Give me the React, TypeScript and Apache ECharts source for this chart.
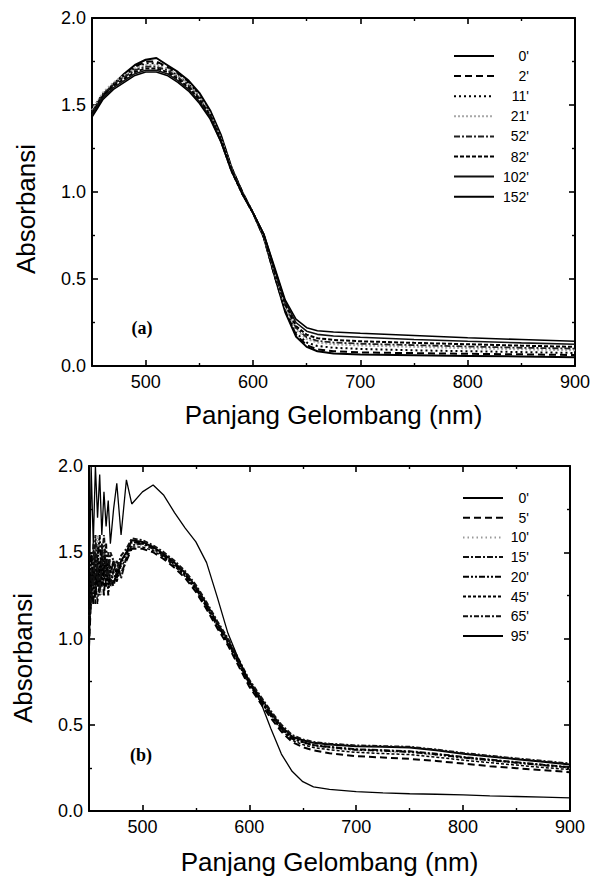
import React, { useEffect, useRef } from "react";
import * as echarts from "echarts";

// ---------- Data: panel (a) ----------
const wavelengthA = [450, 455, 460, 470, 480, 490, 500, 510, 520, 530, 540, 550, 560, 570, 580, 590, 600, 610, 620, 630, 640, 650, 660, 675, 700, 750, 800, 850, 900];
const labelsA = ["0'", "2'", "11'", "21'", "52'", "82'", "102'", "152'"];
const a0 = [1.44, 1.50, 1.55, 1.62, 1.68, 1.73, 1.76, 1.77, 1.73, 1.69, 1.64, 1.57, 1.47, 1.33, 1.14, 1.00, 0.88, 0.74, 0.52, 0.31, 0.17, 0.11, 0.085, 0.072, 0.066, 0.062, 0.058, 0.055, 0.05];
const a2 = [1.45, 1.51, 1.56, 1.62, 1.67, 1.72, 1.75, 1.75, 1.72, 1.68, 1.63, 1.56, 1.46, 1.32, 1.14, 1.00, 0.88, 0.74, 0.52, 0.32, 0.18, 0.12, 0.095, 0.085, 0.078, 0.074, 0.070, 0.067, 0.063];
const a11 = [1.46, 1.52, 1.56, 1.62, 1.67, 1.71, 1.74, 1.74, 1.71, 1.67, 1.62, 1.55, 1.45, 1.31, 1.13, 0.99, 0.88, 0.75, 0.53, 0.33, 0.19, 0.135, 0.115, 0.105, 0.098, 0.090, 0.085, 0.080, 0.075];
const a21 = [1.47, 1.52, 1.57, 1.63, 1.67, 1.71, 1.73, 1.73, 1.71, 1.67, 1.62, 1.55, 1.45, 1.31, 1.13, 0.99, 0.88, 0.75, 0.54, 0.34, 0.21, 0.155, 0.135, 0.125, 0.118, 0.110, 0.102, 0.096, 0.090];
const a52 = [1.46, 1.51, 1.56, 1.62, 1.66, 1.70, 1.72, 1.72, 1.70, 1.66, 1.61, 1.54, 1.44, 1.30, 1.13, 0.99, 0.88, 0.75, 0.54, 0.35, 0.22, 0.165, 0.145, 0.135, 0.128, 0.120, 0.112, 0.105, 0.100];
const a82 = [1.45, 1.50, 1.55, 1.61, 1.65, 1.69, 1.71, 1.71, 1.69, 1.65, 1.60, 1.53, 1.44, 1.30, 1.12, 0.99, 0.88, 0.75, 0.55, 0.36, 0.23, 0.180, 0.160, 0.150, 0.142, 0.133, 0.125, 0.117, 0.110];
const a102 = [1.44, 1.49, 1.54, 1.60, 1.64, 1.68, 1.70, 1.70, 1.68, 1.64, 1.59, 1.52, 1.43, 1.29, 1.12, 0.99, 0.88, 0.76, 0.56, 0.37, 0.25, 0.200, 0.182, 0.172, 0.165, 0.152, 0.142, 0.133, 0.125];
const a152 = [1.43, 1.48, 1.53, 1.59, 1.63, 1.67, 1.69, 1.69, 1.67, 1.63, 1.58, 1.51, 1.42, 1.29, 1.12, 0.99, 0.88, 0.76, 0.57, 0.38, 0.27, 0.220, 0.203, 0.195, 0.188, 0.175, 0.162, 0.152, 0.142];
const valuesA = [a0, a2, a11, a21, a52, a82, a102, a152];

// ---------- Data: panel (b) ----------
const wavelengthB = [450, 452, 454, 456, 458, 460, 462, 464, 466, 468, 470, 473, 476, 480, 485, 490, 500, 510, 520, 530, 540, 550, 560, 570, 580, 590, 600, 610, 620, 630, 640, 650, 660, 675, 700, 725, 750, 775, 800, 825, 850, 875, 900];
const labelsB = ["0'", "5'", "10'", "15'", "20'", "45'", "65'", "95'"];
const b0 = [1.00, 1.35, 1.20, 1.50, 1.30, 1.45, 1.35, 1.50, 1.30, 1.40, 1.38, 1.45, 1.35, 1.45, 1.50, 1.57, 1.56, 1.53, 1.49, 1.44, 1.38, 1.30, 1.20, 1.09, 0.99, 0.87, 0.75, 0.66, 0.57, 0.49, 0.43, 0.41, 0.395, 0.385, 0.375, 0.372, 0.368, 0.352, 0.332, 0.316, 0.30, 0.285, 0.27];
const b5 = [0.95, 1.25, 1.40, 1.20, 1.55, 1.30, 1.40, 1.25, 1.45, 1.30, 1.35, 1.30, 1.40, 1.38, 1.45, 1.52, 1.52, 1.50, 1.46, 1.41, 1.35, 1.27, 1.17, 1.06, 0.96, 0.84, 0.72, 0.63, 0.54, 0.46, 0.40, 0.37, 0.352, 0.335, 0.318, 0.31, 0.302, 0.29, 0.275, 0.26, 0.248, 0.237, 0.225];
const b10 = [1.05, 1.45, 1.25, 1.35, 1.60, 1.40, 1.25, 1.50, 1.35, 1.30, 1.45, 1.35, 1.42, 1.40, 1.48, 1.55, 1.54, 1.52, 1.48, 1.43, 1.37, 1.29, 1.19, 1.08, 0.98, 0.86, 0.74, 0.65, 0.56, 0.48, 0.42, 0.395, 0.378, 0.365, 0.35, 0.345, 0.338, 0.323, 0.305, 0.29, 0.276, 0.262, 0.248];
const b15 = [1.10, 1.20, 1.55, 1.30, 1.40, 1.25, 1.55, 1.35, 1.45, 1.50, 1.30, 1.40, 1.45, 1.35, 1.47, 1.54, 1.55, 1.52, 1.48, 1.43, 1.37, 1.29, 1.19, 1.08, 0.98, 0.86, 0.74, 0.65, 0.56, 0.48, 0.42, 0.40, 0.383, 0.372, 0.358, 0.352, 0.346, 0.332, 0.313, 0.298, 0.283, 0.268, 0.254];
const b20 = [0.98, 1.50, 1.30, 1.25, 1.45, 1.60, 1.30, 1.40, 1.55, 1.25, 1.42, 1.38, 1.33, 1.44, 1.49, 1.56, 1.55, 1.53, 1.48, 1.43, 1.37, 1.29, 1.19, 1.08, 0.98, 0.86, 0.74, 0.65, 0.56, 0.48, 0.42, 0.40, 0.38, 0.37, 0.355, 0.35, 0.343, 0.328, 0.31, 0.295, 0.28, 0.266, 0.252];
const b45 = [1.02, 1.30, 1.45, 1.35, 1.20, 1.40, 1.50, 1.30, 1.35, 1.45, 1.40, 1.32, 1.38, 1.42, 1.46, 1.53, 1.53, 1.51, 1.47, 1.42, 1.36, 1.28, 1.18, 1.07, 0.97, 0.85, 0.73, 0.64, 0.55, 0.47, 0.41, 0.385, 0.368, 0.355, 0.34, 0.333, 0.327, 0.312, 0.295, 0.28, 0.266, 0.252, 0.24];
const b65 = [1.08, 1.40, 1.30, 1.60, 1.35, 1.30, 1.45, 1.60, 1.40, 1.35, 1.50, 1.45, 1.40, 1.48, 1.52, 1.58, 1.57, 1.54, 1.50, 1.45, 1.39, 1.31, 1.21, 1.10, 1.00, 0.88, 0.76, 0.67, 0.58, 0.50, 0.44, 0.415, 0.40, 0.39, 0.38, 0.376, 0.372, 0.356, 0.336, 0.32, 0.305, 0.29, 0.275];
const b95 = [1.05, 2.00, 1.55, 2.00, 1.70, 1.95, 1.60, 1.85, 1.65, 1.80, 1.55, 1.75, 1.90, 1.60, 1.92, 1.78, 1.85, 1.89, 1.83, 1.73, 1.64, 1.56, 1.44, 1.24, 1.03, 0.88, 0.75, 0.64, 0.48, 0.33, 0.23, 0.17, 0.14, 0.125, 0.112, 0.105, 0.10, 0.097, 0.093, 0.088, 0.084, 0.080, 0.076];
const valuesB = [b0, b5, b10, b15, b20, b45, b65, b95];

// ---------- Axis ranges / text ----------
const xMin = 450;
const xMax = 900;
const yMin = 0;
const yMax = 2;
const yStep = 0.5;
const xTitle = "Panjang Gelombang (nm)";
const yTitle = "Absorbansi";

// ---------- Styles (not data) ----------
const stylesA = [
  { type: "solid", width: 2, color: "#000" },
  { type: [7, 4], width: 2, color: "#000" },
  { type: [2, 3], width: 2, color: "#000" },
  { type: [2, 2], width: 2, color: "#a8a8a8" },
  { type: [6, 2, 2, 2], width: 1.8, color: "#222" },
  { type: [4, 2], width: 2, color: "#000" },
  { type: "solid", width: 1.6, color: "#111" },
  { type: "solid", width: 1.6, color: "#000" },
];
const stylesB = [
  { type: "solid", width: 2, color: "#000" },
  { type: [7, 4], width: 2, color: "#000" },
  { type: [1.5, 3], width: 1.5, color: "#9a9a9a" },
  { type: [6, 2, 2, 2], width: 2, color: "#111" },
  { type: [6, 2, 2, 2, 2, 2], width: 2, color: "#000" },
  { type: [3, 2], width: 1.5, color: "#000" },
  { type: [5, 2, 2, 2], width: 2, color: "#111" },
  { type: "solid", width: 1.3, color: "#000" },
];

const FONT = "'Liberation Sans', Arial, Helvetica, sans-serif";

function makeXAxes(gridIndex: number, nameGap: number) {
  const common = {
    type: "value",
    gridIndex,
    min: xMin,
    max: xMax,
    splitLine: { show: false },
    axisLine: { show: true, onZero: false, lineStyle: { color: "#000", width: 2 } },
    axisTick: { show: true, inside: true, length: 6, lineStyle: { color: "#000", width: 1.6 } },
    minorTick: { show: true, splitNumber: 2, length: 3, lineStyle: { color: "#000", width: 1.4 } },
    minorSplitLine: { show: false },
  };
  return [
    {
      ...common,
      position: "bottom",
      name: xTitle,
      nameLocation: "middle",
      nameGap,
      nameTextStyle: { fontSize: 26, color: "#000", fontFamily: FONT },
      axisLabel: {
        color: "#000",
        fontSize: 18,
        fontFamily: FONT,
        margin: 7,
        formatter: (v: number) => (v === xMin ? "" : String(v)),
      },
    },
    { ...common, position: "top", axisLabel: { show: false } },
  ];
}

function makeYAxes(gridIndex: number) {
  const common = {
    type: "value",
    gridIndex,
    min: yMin,
    max: yMax,
    interval: yStep,
    splitLine: { show: false },
    axisLine: { show: true, onZero: false, lineStyle: { color: "#000", width: 2 } },
    axisTick: { show: true, inside: true, length: 6, lineStyle: { color: "#000", width: 1.6 } },
    minorTick: { show: true, splitNumber: 2, length: 3, lineStyle: { color: "#000", width: 1.4 } },
    minorSplitLine: { show: false },
  };
  return [
    {
      ...common,
      position: "left",
      axisLabel: {
        color: "#000",
        fontSize: 18,
        fontFamily: FONT,
        margin: 6,
        formatter: (v: number) => v.toFixed(1),
      },
    },
    { ...common, position: "right", axisLabel: { show: false } },
  ];
}

function makeSeries(prefix: string, labels: string[], xs: number[], vals: number[][], styles: any[], axisIdx: number) {
  return labels.map((lab, i) => ({
    name: prefix + "|" + lab,
    type: "line",
    xAxisIndex: axisIdx,
    yAxisIndex: axisIdx,
    symbol: "none",
    smooth: false,
    clip: true,
    lineStyle: styles[i],
    itemStyle: { color: styles[i].color },
    data: xs.map((x, j) => [x, vals[i][j]]),
  }));
}

function makeLegend(prefix: string, labels: string[], left: number, top: number, textWidth: number, gap: number) {
  return {
    orient: "vertical",
    left,
    top,
    padding: 0,
    itemWidth: 40,
    itemHeight: 14,
    itemGap: gap,
    selectedMode: false,
    itemStyle: { opacity: 0 },
    data: labels.map((l) => prefix + "|" + l),
    formatter: (name: string) => "{t|" + name.split("|")[1] + "}",
    textStyle: {
      color: "#000",
      fontSize: 14,
      fontFamily: FONT,
      lineHeight: 14,
      rich: { t: { width: textWidth, height: 14, lineHeight: 14, align: "right", fontSize: 14, fontFamily: FONT, color: "#000" } },
    },
  };
}

export default function App() {
  const ref = useRef<HTMLDivElement>(null);
  useEffect(() => {
    if (!ref.current) return;
    const chart = echarts.init(ref.current, undefined, { renderer: "svg" });
    const xa = makeXAxes(0, 36);
    const xb = makeXAxes(1, 38);
    const ya = makeYAxes(0);
    const yb = makeYAxes(1);
    chart.setOption({
      animation: false,
      backgroundColor: "#fff",
      grid: [
        { left: 92, top: 18, width: 483, height: 348 },
        { left: 89, top: 466, width: 481, height: 345 },
      ],
      xAxis: [xa[0], xa[1], xb[0], xb[1]],
      yAxis: [ya[0], ya[1], yb[0], yb[1]],
      legend: [makeLegend("a", labelsA, 453, 49, 30, 6.1), makeLegend("b", labelsB, 462, 491, 21, 5.7)],
      series: [
        ...makeSeries("a", labelsA, wavelengthA, valuesA, stylesA, 0),
        ...makeSeries("b", labelsB, wavelengthB, valuesB, stylesB, 2),
      ],
      graphic: [
        {
          type: "text",
          x: 26,
          y: 209,
          rotation: Math.PI / 2,
          style: { text: yTitle, fontSize: 26, fontFamily: FONT, fill: "#000", align: "center", verticalAlign: "middle" },
        },
        {
          type: "text",
          x: 23,
          y: 658,
          rotation: Math.PI / 2,
          style: { text: yTitle, fontSize: 26, fontFamily: FONT, fill: "#000", align: "center", verticalAlign: "middle" },
        },
        {
          type: "text",
          x: 142,
          y: 328,
          style: { text: "(a)", fontSize: 18, fontWeight: "bold", fontFamily: "'Liberation Serif', 'Times New Roman', serif", fill: "#000", align: "center", verticalAlign: "middle" },
        },
        {
          type: "text",
          x: 141,
          y: 755,
          style: { text: "(b)", fontSize: 18, fontWeight: "bold", fontFamily: "'Liberation Serif', 'Times New Roman', serif", fill: "#000", align: "center", verticalAlign: "middle" },
        },
      ],
    });
    return () => chart.dispose();
  }, []);
  return <div ref={ref} style={{ position: "fixed", left: 0, top: 0, width: 606, height: 883, background: "#fff" }} />;
}
